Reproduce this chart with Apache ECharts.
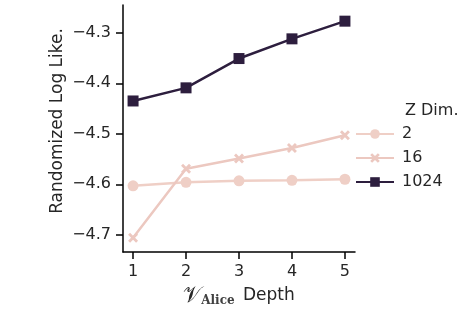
<!DOCTYPE html>
<html>
<head>
<meta charset="utf-8">
<script src="https://cdn.jsdelivr.net/npm/echarts@6/dist/echarts.min.js"></script>
<style>
  html, body { margin: 0; padding: 0; background: #fff; }
  #chart { width: 475px; height: 326px; }
</style>
</head>
<body>
<div id="chart"></div>
<script>
var depths = [1, 2, 3, 4, 5];
var zDim2 = [-4.603, -4.596, -4.593, -4.592, -4.590];
var zDim16 = [-4.706, -4.569, -4.549, -4.528, -4.503];
var zDim1024 = [-4.435, -4.409, -4.351, -4.312, -4.277];
// confidence band half widths
var band2 = [0.003, 0.002, 0.002, 0.002, 0.002];
var band16 = [0.003, 0.003, 0.003, 0.003, 0.005];
var band1024 = [0.003, 0.003, 0.004, 0.004, 0.008];
var yTicks = [-4.7, -4.6, -4.5, -4.4, -4.3];

var color2 = "#efcfc6";
var color16 = "#ecc8c0";
var color1024 = "#2d1e3e";

var crossPath = "path://M2,0 L5,3 L8,0 L10,2 L7,5 L10,8 L8,10 L5,7 L2,10 L0,8 L3,5 L0,2 Z";

function pairs(vals) {
    var out = [];
    for (var i = 0; i < depths.length; i++) {
        out.push([depths[i], vals[i]]);
    }
    return out;
}

function bandSeries(key, vals, half, color) {
    var low = [], diff = [];
    for (var i = 0; i < depths.length; i++) {
        low.push([depths[i], vals[i] - half[i]]);
        diff.push([depths[i], 2 * half[i]]);
    }
    return [
        { name: key + "-low", type: "line", data: low, stack: key, symbol: "none",
          lineStyle: { opacity: 0 }, silent: true, z: 1 },
        { name: key + "-band", type: "line", data: diff, stack: key, symbol: "none",
          lineStyle: { opacity: 0 }, areaStyle: { color: color, opacity: 0.3 }, silent: true, z: 1 }
    ];
}

var chart = echarts.init(document.getElementById("chart"));

var series = [].concat(
    bandSeries("b2", zDim2, band2, color2),
    bandSeries("b16", zDim16, band16, color16),
    bandSeries("b1024", zDim1024, band1024, color1024),
    [
        { name: "2", type: "line", data: pairs(zDim2), symbol: "circle", symbolSize: 11,
          color: color2, lineStyle: { width: 2.5, color: color2 }, itemStyle: { color: color2 }, z: 3 },
        { name: "16", type: "line", data: pairs(zDim16), symbol: crossPath, symbolSize: 10,
          color: color16, lineStyle: { width: 2.5, color: color16 }, itemStyle: { color: color16 }, z: 3 },
        { name: "1024", type: "line", data: pairs(zDim1024), symbol: "rect", symbolSize: 11,
          color: color1024, lineStyle: { width: 2.5, color: color1024 }, itemStyle: { color: color1024 }, z: 4 }
    ]
);

var option = {
    animation: false,
    textStyle: { fontFamily: "DejaVu Sans" },
    grid: { left: 123, right: 120, top: 5, bottom: 74 },
    title: {
        text: "Z Dim.",
        left: 400,
        top: 98,
        textStyle: { fontSize: 16, fontWeight: "normal", color: "#262626", fontFamily: "DejaVu Sans" }
    },
    graphic: [{
        type: "text",
        x: 58,
        y: 121,
        rotation: Math.PI / 2,
        style: {
            text: "Randomized Log Like.",
            fontSize: 17,
            fontFamily: "DejaVu Sans",
            fill: "#262626",
            align: "center",
            verticalAlign: "middle"
        }
    }],
    legend: {
        data: ["2", "16", "1024"],
        orient: "vertical",
        left: 350,
        top: 121,
        itemWidth: 38,
        itemHeight: 12,
        itemGap: 8,
        textStyle: { fontSize: 16, color: "#262626", padding: [0, 0, 0, 3] }
    },
    xAxis: {
        type: "value",
        min: 0.81,
        max: 5.19,
        name: "{v|𝒱}{sub|Alice} Depth",
        nameLocation: "middle",
        nameGap: 31,
        nameTextStyle: {
            fontSize: 17, color: "#262626",
            rich: {
                v: { fontSize: 22, fontFamily: "DejaVu Sans", color: "#262626" },
                sub: { fontSize: 12, fontFamily: "DejaVu Serif", fontWeight: "bold", color: "#404040", verticalAlign: "bottom", padding: [8, 3, 0, 0] }
            }
        },
        axisLine: { lineStyle: { color: "#000", width: 1.5 } },
        axisTick: { show: true, length: 7, lineStyle: { color: "#000", width: 1.5 }, customValues: depths },
        axisLabel: {
            fontSize: 16, color: "#262626", margin: 12, customValues: depths,
            formatter: function (v) { return String(v); }
        },
        splitLine: { show: false }
    },
    yAxis: {
        type: "value",
        min: -4.734,
        max: -4.245,
        axisLine: { show: true, lineStyle: { color: "#000", width: 1.5 } },
        axisTick: { show: true, length: 7, lineStyle: { color: "#000", width: 1.5 }, customValues: yTicks },
        axisLabel: {
            fontSize: 16, color: "#262626", margin: 12, customValues: yTicks,
            formatter: function (v) { return "\u2212" + Math.abs(v).toFixed(1); }
        },
        splitLine: { show: false }
    },
    series: series
};

chart.setOption(option);
</script>
</body>
</html>
